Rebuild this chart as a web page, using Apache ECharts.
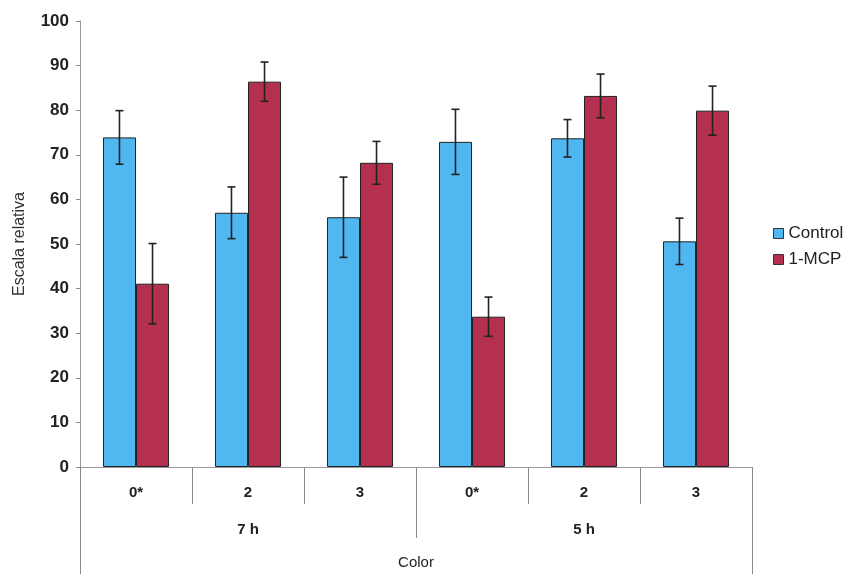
<!DOCTYPE html>
<html>
<head>
<meta charset="utf-8">
<script src="https://cdn.jsdelivr.net/npm/echarts@6/dist/echarts.min.js"></script>
<style>html,body{margin:0;padding:0;background:#fff}#c{width:854px;height:574px}</style>
</head>
<body>
<div id="c"></div>
<script>
var categories = ['0*', '2', '3', '0*', '2', '3'];
var groups = ['7 h', '5 h'];
var outerLabel = ['Color'];
var controlValues = [73.9, 57.0, 56.0, 72.9, 73.7, 50.6];
var controlErrors = [6.0, 5.8, 9.0, 7.3, 4.2, 5.2];
var mcpValues = [41.1, 86.4, 68.2, 33.7, 83.2, 79.9];
var mcpErrors = [9.0, 4.4, 4.8, 4.4, 4.9, 5.5];
var yTicks = { min: 0, max: 100, interval: 10 };

var GAP = 0.41;
function errSeries(vals, errs, side) {
  var data = vals.map(function (v, i) { return [i, v, errs[i]]; });
  return {
    type: 'custom',
    xAxisIndex: 0,
    z: 10,
    silent: true,
    data: data,
    renderItem: function (params, api) {
      var i = api.value(0), v = api.value(1), e = api.value(2);
      var band = api.size([1, 0])[0];
      var off = side * band * (1 - GAP) / 4;
      var top = api.coord([i, v + e]);
      var bot = api.coord([i, v - e]);
      var x = top[0] + off;
      var cap = 4;
      var st = { stroke: '#222', lineWidth: 1.6 };
      return { type: 'group', children: [
        { type: 'line', shape: { x1: x, y1: top[1], x2: x, y2: bot[1] }, style: st },
        { type: 'line', shape: { x1: x - cap, y1: top[1], x2: x + cap, y2: top[1] }, style: st },
        { type: 'line', shape: { x1: x - cap, y1: bot[1], x2: x + cap, y2: bot[1] }, style: st }
      ]};
    }
  };
}

var chart = echarts.init(document.getElementById('c'));
var font = 'Liberation Sans, Arial, sans-serif';
chart.setOption({
  animation: false,
  textStyle: { fontFamily: font },
  grid: { left: 80, right: 102, top: 21, bottom: 107 },
  legend: {
    orient: 'vertical', left: 768, top: 220,
    itemWidth: 10, itemHeight: 10, itemGap: 9,
    textStyle: { fontSize: 17, color: '#222', fontFamily: font, lineHeight: 17 },
    data: [
      { name: 'Control', icon: 'rect', itemStyle: { borderColor: '#333', borderWidth: 1 } },
      { name: '1-MCP', icon: 'rect', itemStyle: { borderColor: '#333', borderWidth: 1 } }
    ]
  },
  xAxis: [
    {
      type: 'category', data: categories, position: 'bottom',
      axisLine: { show: true, lineStyle: { color: '#999', width: 1 } },
      axisTick: { show: true, length: 37, alignWithLabel: false, lineStyle: { color: '#888' } },
      axisLabel: { margin: 18, fontSize: 15, fontWeight: 'bold', color: '#222' }
    },
    {
      type: 'category', data: groups, position: 'bottom', offset: 0,
      axisLine: { show: false },
      axisTick: { show: true, length: 71, lineStyle: { color: '#888' } },
      axisLabel: { margin: 55, fontSize: 15, fontWeight: 'bold', color: '#222' }
    },
    {
      type: 'category', data: outerLabel, position: 'bottom', offset: 0,
      axisLine: { show: false },
      axisTick: { show: true, length: 107, lineStyle: { color: '#888' } },
      axisLabel: { margin: 88, fontSize: 15, color: '#222' }
    }
  ],
  yAxis: {
    type: 'value', min: yTicks.min, max: yTicks.max, interval: yTicks.interval,
    name: 'Escala relativa', nameLocation: 'middle', nameGap: 52, nameRotate: 90,
    nameTextStyle: { fontSize: 16, color: '#333' },
    axisLine: { show: true, lineStyle: { color: '#999' } },
    axisTick: { show: true, length: 4, lineStyle: { color: '#888' } },
    splitLine: { show: false },
    axisLabel: { margin: 11, fontSize: 17, fontWeight: 'bold', color: '#222' }
  },
  series: [
    {
      name: 'Control', type: 'bar', data: controlValues, barGap: '0%', barCategoryGap: '41%',
      itemStyle: { color: '#50b7f0', borderColor: '#222', borderWidth: 1 }
    },
    {
      name: '1-MCP', type: 'bar', data: mcpValues, barGap: '0%', barCategoryGap: '41%',
      itemStyle: { color: '#b4304e', borderColor: '#222', borderWidth: 1 }
    },
    errSeries(controlValues, controlErrors, -1),
    errSeries(mcpValues, mcpErrors, 1)
  ]
});
</script>
</body>
</html>
